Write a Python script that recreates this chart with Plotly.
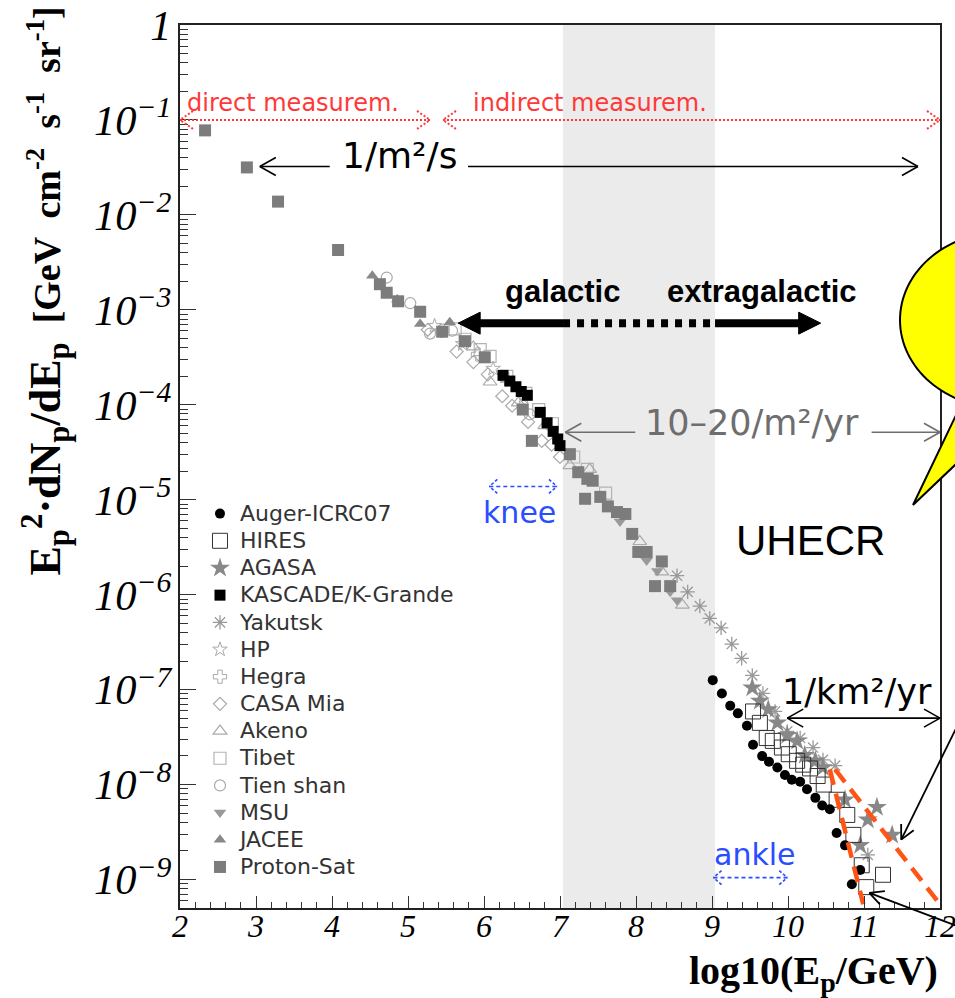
import numpy as np
import plotly.graph_objects as go

# ---------------- data: x = log10(E/GeV), y values given as log10(E^2 dN/dE) ----------------
proton_sat_x = [2.33, 2.88, 3.29, 4.08, 4.63, 4.72, 4.87, 5.16, 5.45, 5.75, 6.01, 6.51, 6.63, 7.13,
                7.24, 7.36, 7.43, 7.33, 7.53, 7.63, 7.75, 7.86, 7.95, 8.03, 8.14, 8.34, 8.25, 8.45]
proton_sat_ly = [-1.11, -1.50, -1.86, -2.37, -2.73, -2.82, -2.91, -3.02, -3.23, -3.33, -3.50, -4.05, -4.38, -4.52,
                 -4.71, -4.78, -4.80, -4.99, -4.97, -5.07, -5.13, -5.15, -5.36, -5.55, -5.55, -5.65, -5.91, -5.91]

kascade_x = [6.25, 6.34, 6.42, 6.49, 6.57, 6.74, 6.83, 6.91, 6.97, 7.00]
kascade_ly = [-3.69, -3.75, -3.81, -3.86, -3.90, -4.08, -4.19, -4.28, -4.36, -4.43]

jacee_x = [4.53, 4.86, 5.16, 5.55]
jacee_ly = [-2.64, -2.89, -3.15, -3.13]

msu_x = [7.79, 8.14, 8.28, 8.45, 8.54]
msu_ly = [-5.23, -5.64, -5.75, -5.97, -6.06]

tien_shan_x = [4.72, 5.03, 5.29, 5.58, 6.60]
tien_shan_ly = [-2.66, -2.93, -3.25, -3.22, -4.10]

tibet_x = [5.62, 5.75, 5.95, 6.08, 6.30, 6.55, 6.72, 6.90, 7.18, 7.36, 7.60]
tibet_ly = [-3.20, -3.31, -3.42, -3.49, -3.70, -3.88, -4.05, -4.20, -4.55, -4.68, -4.93]

akeno_x = [5.86, 6.08, 6.45, 6.80, 7.13, 7.39, 8.05, 8.34, 8.61]
akeno_ly = [-3.39, -3.76, -3.98, -4.22, -4.64, -4.68, -5.44, -5.76, -6.11]

casa_mia_x = [5.26, 5.64, 5.86, 6.05, 6.24, 6.37, 6.58, 6.76, 6.89, 7.00]
casa_mia_ly = [-3.21, -3.44, -3.55, -3.68, -3.91, -4.01, -4.18, -4.38, -4.42, -4.55]

hegra_x = [5.45, 5.92, 6.30]
hegra_ly = [-3.22, -3.47, -3.73]

hp_x = [5.35, 5.72, 6.12, 6.52]
hp_ly = [-3.17, -3.36, -3.62, -3.92]

yakutsk_x = [8.54, 8.68, 8.84, 8.97, 9.12, 9.26, 9.39, 9.53, 9.67, 9.83, 9.99, 10.16, 10.33, 10.46, 10.62, 11.05]
yakutsk_ly = [-5.80, -5.97, -6.12, -6.25, -6.35, -6.52, -6.67, -6.85, -7.04, -7.23, -7.44, -7.51, -7.61, -7.74, -7.80, -8.74]

agasa_x = [9.53, 9.63, 9.74, 9.86, 9.99, 10.12, 10.22, 10.36, 10.46, 10.75, 11.05, 11.17, 11.37, 10.95]
agasa_ly = [-6.98, -7.12, -7.21, -7.35, -7.48, -7.54, -7.69, -7.75, -7.82, -8.16, -8.37, -8.24, -8.53, -8.64]

hires_x = [9.54, 9.63, 9.72, 9.80, 9.92, 10.01, 10.12, 10.20, 10.29, 10.39, 10.47, 10.64, 10.78, 10.86, 10.97, 11.25, 11.03]
hires_ly = [-7.23, -7.35, -7.51, -7.54, -7.61, -7.68, -7.75, -7.79, -7.83, -7.91, -8.00, -8.16, -8.32, -8.53, -8.85, -8.95, -9.08]

auger_x = [9.01, 9.13, 9.24, 9.34, 9.46, 9.54, 9.66, 9.75, 9.86, 9.96, 10.05, 10.16, 10.25, 10.36, 10.45,
           10.55, 10.64, 10.75, 10.95, 10.84]
auger_ly = [-6.90, -7.04, -7.17, -7.25, -7.38, -7.58, -7.70, -7.76, -7.82, -7.90, -7.95, -7.97, -8.05, -8.14, -8.22,
            -8.26, -8.51, -8.64, -8.90, -9.05]

# hand-drawn orange dashed wedge (cut-off guides)
orange_left_x = [10.55, 10.99]
orange_left_ly = [-7.84, -9.26]
orange_right_x = [10.62, 11.96]
orange_right_ly = [-7.84, -9.22]

# shaded region (log10 E)
band_x = [7.04, 9.04]

# ---------------- geometry ----------------
W, H = 955, 998
L, R, T, B = 180, 15, 25, 90
PW, PH = W - L - R, H - T - B
X0, X1 = 2.0, 12.0
Y0, Y1 = -9.3, 0.0


def P(x, ly):
    return (L + (x - X0) / (X1 - X0) * PW, T + (Y1 - ly) / (Y1 - Y0) * PH)


def Q(px_, py_):
    return ((px_ - L) / PW, (T + PH - py_) / PH)


fig = go.Figure()


def add_series(name, xs, lys, symbol, color, size, rank, lw=0.0):
    fig.add_trace(go.Scatter(
        x=xs, y=[10 ** v for v in lys], mode="markers", legendrank=rank,
        name="<span style='font-size:22px'>" + name + "</span>",
        marker=dict(symbol=symbol, size=size, color=color, line=dict(color=color, width=lw))))


add_series("Tibet", tibet_x, tibet_ly, "square-open", "#b4b4b4", 12, 10, 1.2)
add_series("CASA Mia", casa_mia_x, casa_mia_ly, "diamond-open", "#aaaaaa", 10, 8, 1.2)
add_series("Akeno", akeno_x, akeno_ly, "triangle-up-open", "#aaaaaa", 12, 9, 1.2)
add_series("Tien shan", tien_shan_x, tien_shan_ly, "circle-open", "#aaaaaa", 11, 11, 1.2)
add_series("HP", hp_x, hp_ly, "star-open", "#aaaaaa", 11, 6, 1.0)
add_series("Hegra", hegra_x, hegra_ly, "cross-open", "#aaaaaa", 11, 7, 1.0)
add_series("JACEE", jacee_x, jacee_ly, "triangle-up", "#888888", 11, 13)
add_series("MSU", msu_x, msu_ly, "triangle-down", "#999999", 11, 12)
add_series("Proton-Sat", proton_sat_x, proton_sat_ly, "square", "#7c7c7c", 12, 14)
add_series("KASCADE/K-Grande", kascade_x, kascade_ly, "square", "#000000", 11, 4)
add_series("Yakutsk", yakutsk_x, yakutsk_ly, "asterisk-open", "#9a9a9a", 12, 5, 1.3)
add_series("AGASA", agasa_x, agasa_ly, "star", "#888888", 15, 3)
add_series("HIRES", hires_x, hires_ly, "square-open", "#333333", 15, 2, 1.0)
add_series("Auger-ICRC07", auger_x, auger_ly, "circle", "#000000", 10, 1)

for xs, lys in [(orange_left_x, orange_left_ly), (orange_right_x, orange_right_ly)]:
    fig.add_trace(go.Scatter(x=xs, y=[10 ** v for v in lys], mode="lines", showlegend=False,
                             hoverinfo="skip", line=dict(color="#ff5414", width=4.5, dash="16px,9px")))

shapes = []
annots = []

shapes.append(dict(type="rect", xref="x", yref="paper", x0=band_x[0], x1=band_x[1], y0=0, y1=1,
                   fillcolor="#ebebeb", line=dict(width=0), layer="below"))


def seg(a, b, color, width, dash="solid"):
    (x0, y0), (x1, y1) = Q(*a), Q(*b)
    shapes.append(dict(type="line", xref="paper", yref="paper", x0=x0, y0=y0, x1=x1, y1=y1,
                       line=dict(color=color, width=width, dash=dash), layer="above"))


def poly(pts, fill, color, width):
    qs = [Q(*p) for p in pts]
    path = "M" + " L".join("{:.5f},{:.5f}".format(a, b) for a, b in qs) + " Z"
    shapes.append(dict(type="path", xref="paper", yref="paper", path=path, fillcolor=fill,
                       line=dict(color=color, width=width), layer="above"))


def head(tip, frm, color, width, length=14, half=7, dash="solid", filled=False):
    tx, ty = tip
    fx, fy = frm
    d = np.hypot(tx - fx, ty - fy)
    ux, uy = (tx - fx) / d, (ty - fy) / d
    bx, by = tx - ux * length, ty - uy * length
    p1 = (bx - uy * half, by + ux * half)
    p2 = (bx + uy * half, by - ux * half)
    if filled:
        poly([tip, p1, p2], color, color, 1)
    else:
        seg(p1, tip, color, width, dash)
        seg(p2, tip, color, width, dash)


def text(x, ly, s, size, color, family="DejaVu Sans", xanchor="center", weight=400):
    xp, yp = Q(*P(x, ly))
    annots.append(dict(text=s, x=xp, y=yp, xref="paper", yref="paper", xanchor=xanchor, yanchor="middle",
                       showarrow=False, font=dict(family=family, size=size, color=color, weight=weight)))


RED = "#ff3838"
BLUE = "#2a4dff"
GREY = "#6e6e6e"

# direct / indirect measurement (red dotted double arrows)
for a, b in [((2.0, -1.0), (5.29, -1.0)), ((5.46, -1.0), (12.0, -1.0))]:
    pa, pb = P(*a), P(*b)
    seg(pa, pb, RED, 2, "2px,2px")
    head(pa, pb, RED, 2, 13, 9, "2px,2px")
    head(pb, pa, RED, 2, 13, 9, "2px,2px")
text(2.07, -0.82, "direct measurem.", 24, RED, xanchor="left")
text(5.83, -0.82, "indirect measurem.", 24, RED, xanchor="left")

# 1/m^2/s
a, b = P(3.05, -1.49), P(3.97, -1.49)
seg(a, b, "black", 1.6)
head(a, b, "black", 1.6, 16, 9)
a, b = P(5.79, -1.49), P(11.71, -1.49)
seg(a, b, "black", 1.6)
head(b, a, "black", 1.6, 16, 9)
text(4.89, -1.37, "1/m²/s", 36, "black")

# galactic / extragalactic
gy = -3.14
pl, pr = P(5.66, gy), P(10.43, gy)
pb0, pb1 = P(band_x[0], gy), P(band_x[1], gy)
seg((pl[0] + 18, pl[1]), pb0, "black", 8)
seg(pb0, pb1, "black", 8, "7px,7px")
seg(pb1, (pr[0] - 18, pr[1]), "black", 8)
head(pl, pr, "black", 1, 22, 11, filled=True)
head(pr, pl, "black", 1, 22, 11, filled=True)
text(7.03, -2.81, "galactic", 31, "black", family="Liberation Sans", weight=700)
text(9.66, -2.81, "extragalactic", 31, "black", family="Liberation Sans", weight=700)

# 10-20 / m^2 / yr
a, b = P(7.07, -4.29), P(7.99, -4.29)
seg(a, b, GREY, 1.6)
head(a, b, GREY, 1.6, 16, 9)
a, b = P(11.10, -4.29), P(12.0, -4.29)
seg(a, b, GREY, 1.6)
head(b, a, GREY, 1.6, 16, 9)
text(9.52, -4.19, "10–20/m²/yr", 35, GREY)

# knee
a, b = P(6.07, -4.86), P(6.96, -4.86)
seg(a, b, BLUE, 1.6, "4px,3px")
head(a, b, BLUE, 1.6, 8, 7, "3px,2px")
head(b, a, BLUE, 1.6, 8, 7, "3px,2px")
text(6.47, -5.13, "knee", 30, BLUE)

# ankle
a, b = P(9.02, -8.98), P(9.99, -8.98)
seg(a, b, BLUE, 1.6, "4px,3px")
head(a, b, BLUE, 1.6, 8, 7, "3px,2px")
head(b, a, BLUE, 1.6, 8, 7, "3px,2px")
text(9.57, -8.74, "ankle", 30, BLUE)

# 1/km^2/yr
a, b = P(9.99, -7.30), P(12.0, -7.30)
seg(a, b, "black", 1.6)
head(a, b, "black", 1.6, 16, 9)
head(b, a, "black", 1.6, 16, 9)
text(10.91, -7.02, "1/km²/yr", 35, "black")

# UHECR label
text(10.30, -5.43, "UHECR", 42, "black", family="Liberation Sans")

# pointer arrows coming from the right edge
tipA = P(11.49, -8.58)
tailA = (tipA[0] + 64, tipA[1] - 130)
seg(tailA, tipA, "black", 1.8)
head(tipA, tailA, "black", 1.8, 14, 7)
tipB = P(11.07, -9.14)
tailB = (tipB[0] + 95, tipB[1] + 36)
seg(tailB, tipB, "black", 1.8)
head(tipB, tailB, "black", 1.8, 14, 7)

# yellow speech bubble (partly outside the figure)
cx, cy, rx, ry = 1003, 320, 103, 88
ts = np.radians(np.linspace(113, 443, 120))
bubble = [(913, 505)] + [(cx + rx * np.cos(t), cy + ry * np.sin(t)) for t in ts]
poly(bubble, "#ffff00", "black", 2)

# axis titles
ytitle = ("<b><span style='font-size:44px'>E<sub>p</sub><sup>2</sup>·dN<sub>p</sub>/dE<sub>p</sub></span>  "
          "[GeV  cm<sup>-2</sup>  s<sup>-1</sup>  sr<sup>-1</sup>]</b>")
yx, yy = Q(45, 5)
annots.append(dict(text=ytitle, x=yx, y=yy, xref="paper", yref="paper", xanchor="center", yanchor="top",
                   textangle=-90, showarrow=False,
                   font=dict(family="Liberation Serif", size=38, color="black")))
xx, xy = Q(940, 973)
annots.append(dict(text="<b>log10(E<sub>p</sub>/GeV)</b>", x=xx, y=xy, xref="paper", yref="paper",
                   xanchor="right", yanchor="middle", showarrow=False,
                   font=dict(family="Liberation Serif", size=40, color="black")))

fig.update_layout(
    width=W, height=H, margin=dict(l=L, r=R, t=T, b=B, autoexpand=False),
    plot_bgcolor="white", paper_bgcolor="white",
    shapes=shapes, annotations=annots,
    xaxis=dict(range=[X0, X1], dtick=1, tick0=0, ticks="inside", ticklen=12, tickwidth=1, tickcolor="#333",
               minor=dict(dtick=0.2, ticks="inside", ticklen=6, tickcolor="#333", showgrid=False),
               showgrid=False, zeroline=False, showline=True, linecolor="#222", linewidth=1.5, mirror=True,
               automargin=False, ticklabelstandoff=-11, ticklabeloverflow="allow",
               tickfont=dict(family="Liberation Serif", size=32, color="black", style="italic")),
    yaxis=dict(type="log", range=[Y0, Y1], dtick=1, exponentformat="power", ticks="inside", ticklen=16,
               tickwidth=1, tickcolor="#333",
               minor=dict(dtick="D1", ticks="inside", ticklen=8, tickcolor="#333", showgrid=False),
               showgrid=False, zeroline=False, showline=True, linecolor="#222", linewidth=1.5, mirror=True,
               automargin=False, ticklabeloverflow="allow",
               tickfont=dict(family="Liberation Serif", size=34, color="black", style="italic")),
    legend=dict(x=0.0263, y=0.4677, xanchor="left", yanchor="top", bgcolor="rgba(0,0,0,0)",
                font=dict(family="DejaVu Sans", size=18.6, color="#333")),
    showlegend=True,
)

fig.write_html("out.html")
